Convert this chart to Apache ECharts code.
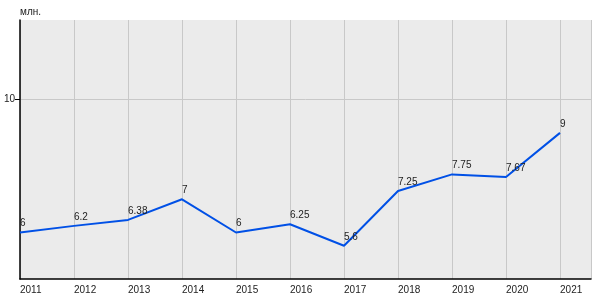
<!DOCTYPE html>
<html><head><meta charset="utf-8">
<script src="https://cdn.jsdelivr.net/npm/echarts@6/dist/echarts.min.js"></script>
<style>html,body{margin:0;padding:0;background:#fff}#c{width:600px;height:300px}</style>
</head><body><div id="c"></div>
<script>
const years = [2011, 2012, 2013, 2014, 2015, 2016, 2017, 2018, 2019, 2020, 2021];
const values = [6, 6.2, 6.38, 7, 6, 6.25, 5.6, 7.25, 7.75, 7.67, 9];
const yTickLabels = [10];
const unitLabel = 'млн.';

const chart = echarts.init(document.getElementById('c'), null, {renderer: 'canvas'});
const font = 'Liberation Sans, Arial, sans-serif';
chart.setOption({
  animation: false,
  backgroundColor: '#ffffff',
  grid: {left: 20, right: 9, top: 20, bottom: 21, show: true, backgroundColor: '#ebebeb', borderWidth: 0},
  xAxis: {
    type: 'value', min: 2011, max: 2021.574, interval: 1,
    axisLine: {show: true, lineStyle: {color: '#000', width: 1.5}},
    axisTick: {show: false},
    axisLabel: {showMaxLabel: false, align: 'left', margin: 6, color: '#222', fontSize: 10, fontFamily: font,
      formatter: v => String(Math.round(v))},
    splitLine: {show: true, lineStyle: {color: '#c8c8c8', width: 1}}
  },
  yAxis: {
    type: 'value', min: 4.6, max: 12.4,
    name: unitLabel, nameLocation: 'end', nameGap: 3,
    nameTextStyle: {align: 'left', verticalAlign: 'bottom', color: '#222', fontSize: 10, fontFamily: font},
    axisLine: {show: true, lineStyle: {color: '#000', width: 1.5}},
    axisTick: {show: true, length: 5, customValues: yTickLabels, lineStyle: {color: '#000'}},
    axisLabel: {customValues: yTickLabels, color: '#222', fontSize: 10, fontFamily: font, margin: 5,
      verticalAlign: 'middle', padding: [0, 0, 5, 0]},
    splitLine: {show: true, lineStyle: {color: '#c8c8c8', width: 1}}
  },
  series: [{
    type: 'line',
    data: years.map((y, i) => [y, values[i]]),
    showSymbol: true,
    symbol: 'circle',
    symbolSize: 0,
    lineStyle: {color: '#0050e6', width: 2},
    itemStyle: {color: '#0050e6'},
    label: {show: true, position: 'top', align: 'left', distance: 4, color: '#222', fontSize: 10, fontFamily: font,
      formatter: p => String(p.value[1])}
  }]
});
</script></body></html>
